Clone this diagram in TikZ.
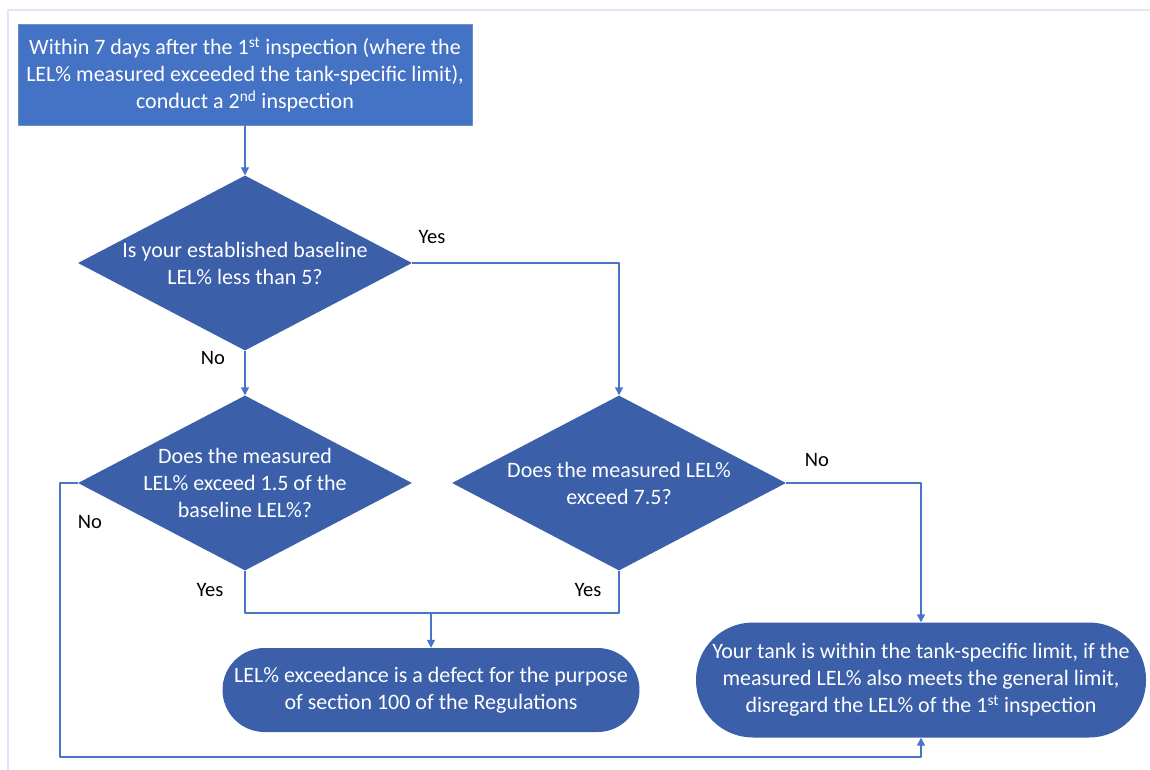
\documentclass[tikz,border=0pt]{standalone}
\usepackage{fontspec}
\setmainfont{Carlito}
\usetikzlibrary{shapes.geometric,arrows.meta}
\definecolor{boxblue}{HTML}{4472C4}
\definecolor{darkblue}{HTML}{3B5FA9}
\definecolor{lineblue}{HTML}{4A74C9}
\definecolor{frameblue}{HTML}{DCE7F6}
\begin{document}
\begin{tikzpicture}[x=1pt,y=-1pt,>={Triangle[length=8pt,width=8pt]}, line join=round,
		txt/.style={text=white,align=center,font=\fontsize{22}{27}\selectfont},
		decision/.style={diamond,fill=darkblue,inner sep=0pt,shape aspect=1.9,minimum width=334pt,minimum height=175pt},
		terminal/.style={rectangle,fill=darkblue,inner sep=0pt,txt},
		link/.style={lineblue,line width=1.4pt},
		ans/.style={font=\fontsize{20.5}{24}\selectfont}]
	\useasboundingbox (0,0) rectangle (1150,770);
	\draw[frameblue,line width=2pt] (8,770)--(8,10)--(1150,10);
	% boxes
	\node[rectangle,fill=boxblue,draw=boxblue!80!white,minimum width=454pt,minimum height=101pt,inner sep=0pt,txt] (inspect) at (245,75)
		{Within 7 days after the 1\textsuperscript{st} inspection (where the\\ LEL\% measured exceeded the tank-specific limit),\\ conduct a 2\textsuperscript{nd} inspection};
	\node[decision] (baseline) at (245,263) {};
	\node[txt] (baselinetxt) at (245,263) {Is your established baseline\\ LEL\% less than 5?};
	\node[decision] (ratio) at (245,483) {};
	\node[txt] (ratiotxt) at (245,483) {Does the measured\\ LEL\% exceed 1.5 of the\\ baseline LEL\%?};
	\node[decision] (limit) at (619,483) {};
	\node[txt] (limittxt) at (619,483) {Does the measured LEL\%\\ exceed 7.5?};
	\node[terminal,minimum width=417pt,minimum height=84pt,rounded corners=42pt] (defect) at (431,690)
		{LEL\% exceedance is a defect for the purpose\\ of section 100 of the Regulations};
	\node[terminal,minimum width=450pt,minimum height=115pt,rounded corners=57pt] (within) at (921,680)
		{Your tank is within the tank-specific limit, if the\\ measured LEL\% also meets the general limit,\\ disregard the LEL\% of the 1\textsuperscript{st} inspection};
	% answers
	\node[ans] (yes1) at (432,237) {Yes};
	\node[ans] (no1) at (213,358) {No};
	\node[ans] (no2) at (90,522) {No};
	\node[ans] (yes2) at (210,590) {Yes};
	\node[ans] (yes3) at (588,590) {Yes};
	\node[ans] (no3) at (817,460) {No};
	% connectors
	\coordinate (join) at (431,613);
	\coordinate (back) at (60,757);
	\draw[link,->] (inspect) -- (baseline);
	\draw[link,->] (baseline.east) -| (limit.north);
	\draw[link,->] (baseline) -- (ratio);
	\draw[link,->] (limit.east) -| (within.north);
	\draw[link] (ratio.south) |- (join) -| (limit.south);
	\draw[link,->] (join) -- (defect);
	\draw[link,->] (ratio.west) -| (back) -| (within.south);
\end{tikzpicture}
\end{document}
